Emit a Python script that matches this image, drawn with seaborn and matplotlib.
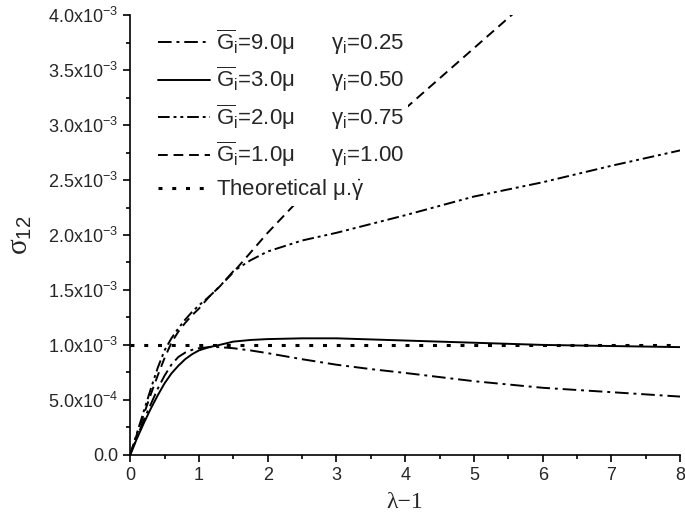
import matplotlib
matplotlib.use("Agg")
import matplotlib.pyplot as plt
import numpy as np
import pandas as pd
import seaborn as sns
from matplotlib.ticker import MultipleLocator, FuncFormatter

# strain values (lambda - 1) at which the curves were read
strain = [0, 0.1, 0.2, 0.3, 0.4, 0.5, 0.6, 0.7, 0.8, 0.9, 1, 1.15, 1.3, 1.5, 1.75,
          2, 2.5, 3, 3.5, 4, 5, 6, 7, 8]

# shear stress sigma_12 (x1e-3) for each model
g9_gamma025 = [0, 0.16, 0.32, 0.46, 0.6, 0.72, 0.82, 0.89, 0.93, 0.955, 0.97, 0.98, 0.98,
               0.97, 0.95, 0.925, 0.87, 0.82, 0.78, 0.745, 0.67, 0.61, 0.57, 0.53]
g3_gamma050 = [0, 0.15, 0.29, 0.42, 0.54, 0.65, 0.74, 0.81, 0.87, 0.915, 0.95, 0.98, 1.0,
               1.03, 1.045, 1.053, 1.06, 1.06, 1.05, 1.04, 1.02, 1.0, 0.99, 0.98]
g2_gamma075 = [0, 0.2, 0.4, 0.6, 0.79, 0.95, 1.06, 1.15, 1.23, 1.3, 1.36, 1.44, 1.53,
               1.67, 1.77, 1.85, 1.95, 2.02, 2.1, 2.18, 2.35, 2.48, 2.63, 2.77]
g1_gamma100 = [0, 0.19, 0.37, 0.55, 0.72, 0.88, 1.02, 1.12, 1.2, 1.27, 1.33, 1.44, 1.53,
               1.66, 1.84, 2.02, 2.35, 2.6, 2.88, 3.15, 3.7, 4.25, 4.8, 5.35]
theoretical = [1.0] * len(strain)

labels = [
    r"$\overline{\mathrm{G}}_\mathrm{i}$=9.0μ      γ$_\mathrm{i}$=0.25",
    r"$\overline{\mathrm{G}}_\mathrm{i}$=3.0μ      γ$_\mathrm{i}$=0.50",
    r"$\overline{\mathrm{G}}_\mathrm{i}$=2.0μ      γ$_\mathrm{i}$=0.75",
    r"$\overline{\mathrm{G}}_\mathrm{i}$=1.0μ      γ$_\mathrm{i}$=1.00",
    r"Theoretical μ.$\dot{\mathrm{\gamma}}$",
]
series = [g9_gamma025, g3_gamma050, g2_gamma075, g1_gamma100, theoretical]
styles = [
    (0, (7, 2.5, 1.5, 2.5)),
    "-",
    (0, (6, 2, 1.5, 2, 1.5, 2)),
    (0, (5, 3)),
    (0, (1.3, 3.2)),
]
widths = [1.4, 1.4, 1.4, 1.4, 2.2]

sns.set_style("ticks")
plt.rcParams['font.family'] = ['Liberation Sans', 'DejaVu Sans']
plt.rcParams['mathtext.fontset'] = 'custom'
plt.rcParams['mathtext.rm'] = 'Liberation Sans'
plt.rcParams['mathtext.it'] = 'Liberation Sans:italic'

fig = plt.figure(figsize=(6.85, 5.24), dpi=100)
ax = fig.add_axes([0.19, 0.132, 0.803, 0.839])

for lab, ys, ls, lw in zip(labels, series, styles, widths):
    df = pd.DataFrame({"x": strain, "y": np.array(ys) * 1e-3})
    sns.lineplot(data=df, x="x", y="y", ax=ax, color="black", linestyle=ls,
                 linewidth=lw, label=lab, sort=False, estimator=None)

ax.set_xlim(0, 8)
ax.set_ylim(0, 4.0e-3)
ax.xaxis.set_major_locator(MultipleLocator(1))
ax.xaxis.set_minor_locator(MultipleLocator(0.5))
ax.yaxis.set_major_locator(MultipleLocator(5e-4))
ax.yaxis.set_minor_locator(MultipleLocator(2.5e-4))


def sci(v, pos):
    if abs(v) < 1e-12:
        return "0.0"
    exp = int(np.floor(np.log10(abs(v)) + 1e-9))
    mant = v / 10 ** exp
    return r"%.1fx10$^{%d}$" % (mant, exp)


ax.yaxis.set_major_formatter(FuncFormatter(sci))
ax.tick_params(which="major", direction="out", length=5, width=1.2, labelsize=13, color="black")
ax.tick_params(which="minor", direction="out", length=3, width=1.2, color="black")
for s in ["top", "right"]:
    ax.spines[s].set_visible(False)
for s in ["left", "bottom"]:
    ax.spines[s].set_linewidth(1.2)
    ax.spines[s].set_color("black")

ax.set_xlabel("λ−1", fontsize=17, family="Liberation Serif", labelpad=6)
ax.set_ylabel(r"σ$_{12}$", fontsize=21, family="Liberation Serif", labelpad=10)

leg = ax.legend(loc="upper left", bbox_to_anchor=(0.045, 0.98), fontsize=16,
                frameon=True, framealpha=1, facecolor="white", edgecolor="none",
                handlelength=2.35, handletextpad=0.25, labelspacing=0.36,
                borderpad=0.15, borderaxespad=0, fancybox=False)

fig.savefig("out.png", dpi=100)
